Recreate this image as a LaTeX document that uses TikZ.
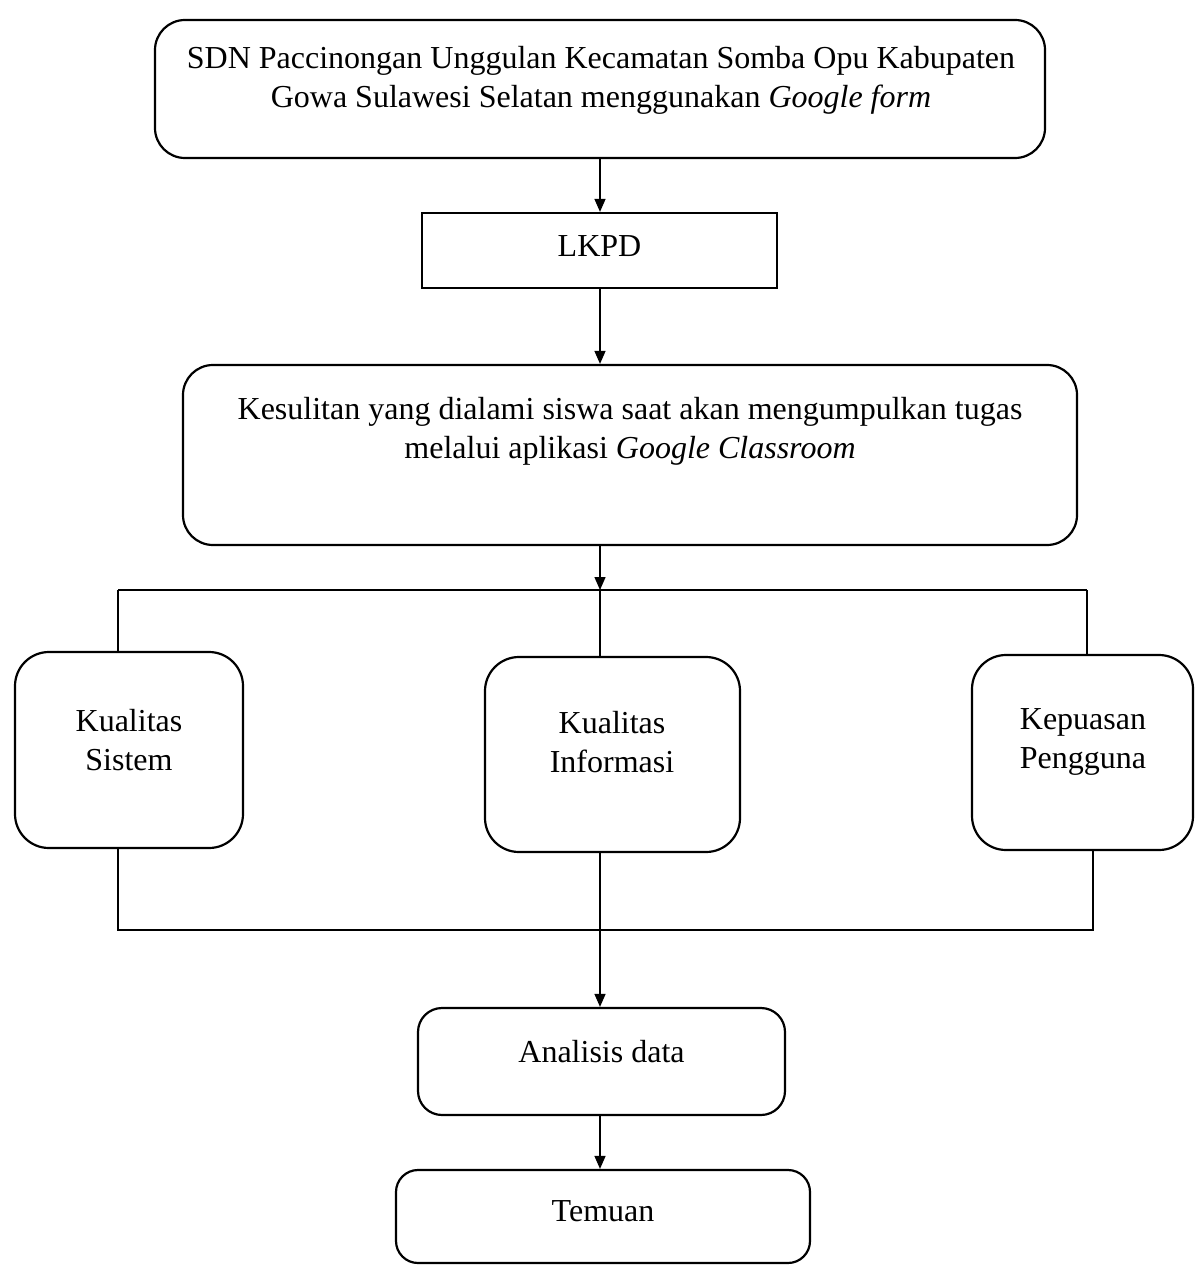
\documentclass[tikz,border=0pt]{standalone}
\usepackage{fontspec}
\setmainfont{Liberation Serif}
\usetikzlibrary{arrows.meta}
\begin{document}
\begin{tikzpicture}[x=0.5pt,y=-0.5pt,
  box/.style={draw,line width=1.1pt,inner sep=0pt},
  rbox/.style={box,rounded corners=#1},
  lbl/.style={align=center,inner sep=0pt,font=\fontsize{16pt}{19.5pt}\selectfont},
  conn/.style={line width=0.7pt},
  arr/.style={conn,-{Triangle[length=6.5pt,width=5.5pt]}}]
\useasboundingbox (0,0) rectangle (1196,1267);
% boxes
\node[rbox=15pt,minimum width=445pt,minimum height=69pt] (b1) at (600,89) {};
\node[lbl] (t1) at (601,80) {SDN Paccinongan Unggulan Kecamatan Somba Opu Kabupaten\\Gowa Sulawesi Selatan menggunakan \textit{Google form}};
\node[box,minimum width=177.5pt,minimum height=37.5pt] (lk) at (599.5,250.5) {};
\node[lbl] (tl) at (599.5,246) {LKPD};
\node[rbox=15pt,minimum width=447pt,minimum height=90pt] (b3) at (630,455) {};
\node[lbl] (t3) at (630,431) {Kesulitan yang dialami siswa saat akan mengumpulkan tugas\\melalui aplikasi \textit{Google Classroom}};
\node[rbox=17pt,minimum width=114pt,minimum height=98pt] (ks) at (129,750) {};
\node[lbl] (tks) at (129,740) {Kualitas\\Sistem};
\node[rbox=17pt,minimum width=127.5pt,minimum height=97.5pt] (ki) at (612.5,754.5) {};
\node[lbl] (tki) at (612,742) {Kualitas\\Informasi};
\node[rbox=17pt,minimum width=110.5pt,minimum height=97.5pt] (kp) at (1082.5,752.5) {};
\node[lbl] (tkp) at (1083,742) {Kepuasan\\Pengguna};
\node[rbox=12pt,minimum width=183.5pt,minimum height=53.5pt] (ad) at (601.5,1061.5) {};
\node[lbl] (tad) at (601.5,1052) {Analisis data};
\node[rbox=11pt,minimum width=207pt,minimum height=46.5pt] (tm) at (603,1216.5) {};
\node[lbl] (ttm) at (603,1211) {Temuan};
% junction points
\coordinate (j1) at (600,590);
\coordinate (jl) at (118,590);
\coordinate (jr) at (1087,590);
\coordinate (kl) at (118,930);
\coordinate (kr) at (1093,930);
\coordinate (km) at (600,930);
% connectors
\draw[arr] (b1.south -| j1) -- (lk.north -| j1);
\draw[arr] (lk.south -| j1) -- (b3.north -| j1);
\draw[arr] (b3.south -| j1) -- (j1);
\draw[conn] (jl) -- (jr);
\draw[conn] (jl) -- (jl |- ks.north);
\draw[conn] (j1) -- (j1 |- ki.north);
\draw[conn] (jr) -- (jr |- kp.north);
\draw[conn] (kl |- ks.south) -- (kl) -- (kr) -- (kr |- kp.south);
\draw[arr] (km |- ki.south) -- (km |- ad.north);
\draw[arr] (ad.south -| km) -- (tm.north -| km);
\end{tikzpicture}
\end{document}
